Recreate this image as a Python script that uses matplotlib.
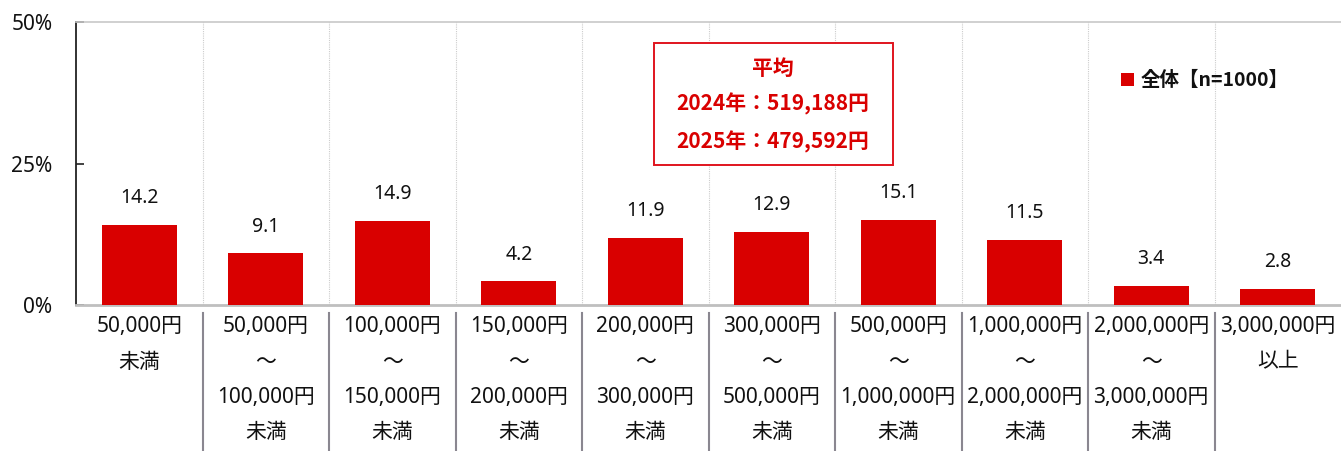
import matplotlib
matplotlib.use("Agg")
import matplotlib.pyplot as plt
from matplotlib.patches import Rectangle
import matplotlib.transforms as mtransforms

FAM = ['Noto Sans', 'Noto Sans CJK JP', 'DejaVu Sans']
CJK = ['Noto Sans CJK JP', 'DejaVu Sans']
plt.rcParams['font.family'] = FAM

categories = [
    "50,000円\n未満",
    "50,000円\n～\n100,000円\n未満",
    "100,000円\n～\n150,000円\n未満",
    "150,000円\n～\n200,000円\n未満",
    "200,000円\n～\n300,000円\n未満",
    "300,000円\n～\n500,000円\n未満",
    "500,000円\n～\n1,000,000円\n未満",
    "1,000,000円\n～\n2,000,000円\n未満",
    "2,000,000円\n～\n3,000,000円\n未満",
    "3,000,000円\n以上",
]
values = [14.2, 9.1, 14.9, 4.2, 11.9, 12.9, 15.1, 11.5, 3.4, 2.8]
yticks = [0, 25, 50]
ytick_labels = ["0%", "25%", "50%"]
legend_label = "全体【n=1000】"
box_lines = ["平均", "2024年：519,188円", "2025年：479,592円"]

RED = "#d90000"
TXT = "#111111"
W, H = 1341, 451
fig = plt.figure(figsize=(W / 100, H / 100), dpi=100)
ax = fig.add_axes([76 / W, (H - 305) / H, (W - 76) / W, (305 - 22) / H])

n = len(values)
x = list(range(n))
ax.bar(x, values, width=0.59, color=RED, zorder=3)
ax.set_xlim(-0.5, n - 0.5)
ax.set_ylim(0, 50)

for xi, v in zip(x, values):
    ax.annotate(f"{v:.1f}", (xi, v), xytext=(0, 12), textcoords="offset points",
                ha="center", va="bottom", fontsize=14, color=TXT)

# y axis
ax.set_yticks(yticks)
ax.set_yticklabels(ytick_labels, fontsize=15, color=TXT)
ax.tick_params(axis="y", direction="in", length=6, width=1.2, color="#222222", pad=17)

# x axis labels
ax.set_xticks(x)
ax.set_xticklabels(categories, fontsize=15, color=TXT, linespacing=1.9, va="top")
ax.tick_params(axis="x", length=0, pad=8)

# spines
ax.spines["left"].set_color("#222222")
ax.spines["left"].set_linewidth(1.3)
ax.spines["bottom"].set_color("#bfbfbf")
ax.spines["bottom"].set_linewidth(2)
ax.spines["top"].set_color("#c8c8c8")
ax.spines["top"].set_linewidth(1.2)
ax.spines["right"].set_visible(False)

# dotted separators inside plot & solid separators below
trans = mtransforms.blended_transform_factory(ax.transData, ax.transAxes)
for b in range(1, n):
    bx = b - 0.5
    ax.plot([bx, bx], [0, 1], transform=trans, color="#cccccc", lw=0.8,
            linestyle=(0, (1, 1)), zorder=1)
    ax.plot([bx, bx], [-8 / 283, -150 / 283], transform=trans, color="#8a8790",
            lw=1.5, clip_on=False)

# average box
fig.add_artist(Rectangle((654 / W, (H - 165) / H), (893 - 654) / W, (165 - 43) / H,
                         transform=fig.transFigure, facecolor="white", edgecolor="#e0141e",
                         lw=1.4, zorder=5))
for yy, t in zip([68, 104, 142], box_lines):
    fig.text(773 / W, (H - yy) / H, t, ha="center", va="center", fontsize=15,
             color=RED, fontweight="bold", family=CJK, zorder=6)

# legend
fig.add_artist(Rectangle((1121 / W, (H - 86) / H), 13 / W, 13 / H,
                         transform=fig.transFigure, facecolor=RED, edgecolor="none"))
fig.text(1141 / W, (H - 80) / H, legend_label, ha="left", va="center", fontsize=14,
         color=TXT, fontweight="bold", family=CJK)

fig.savefig("out.png", dpi=100)
